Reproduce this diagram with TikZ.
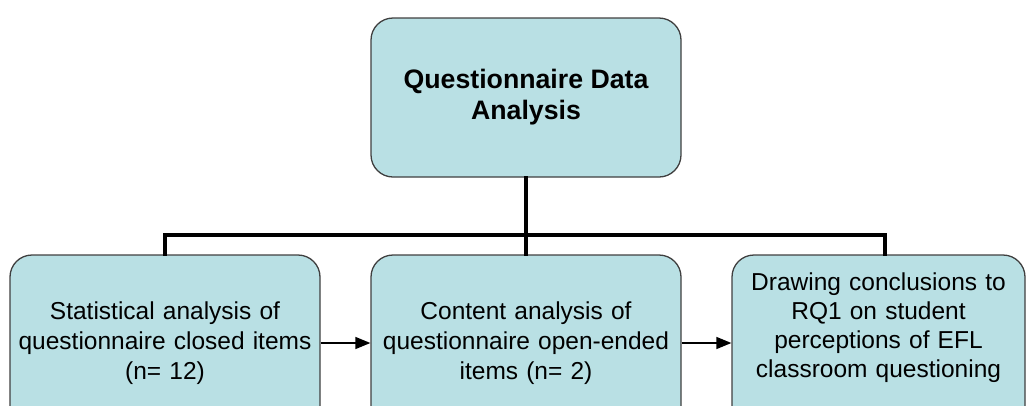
\documentclass[tikz,border=0pt]{standalone}
\usepackage{fontspec}
\setmainfont{Liberation Sans}
\usetikzlibrary{arrows.meta}
\definecolor{boxfill}{RGB}{185,224,228}
\definecolor{boxline}{RGB}{64,64,64}

\begin{document}
\begin{tikzpicture}[x=1pt, y=-1pt, thick,
    main node/.style={rectangle, rounded corners=22pt, draw=boxline, line width=1.3pt, fill=boxfill,
        minimum width=310pt, minimum height=176pt, align=center, inner sep=0pt,
        font=\fontsize{24.5}{30}\selectfont},
    bar/.style={line width=4pt, line cap=rect},
    flow/.style={line width=1.5pt, -{Triangle[length=15pt, width=12pt]}}]

                        \clip (0,0) rectangle (1028,405);

                        \node[main node, minimum height=159pt, font=\fontsize{26.7}{31}\selectfont\bfseries] at (526, 97.5) (qda) {Questionnaire Data\\Analysis};
                        \node[main node, text width=300pt] at (165, 343) (stat) {Statistical analysis of\\questionnaire closed items\\(n= 12)};
                        \node[main node, text width=300pt] at (526, 343) (content) {Content analysis of\\questionnaire open-ended\\items (n= 2)};
                        \node[main node, minimum width=293pt, text width=285pt, text depth=122pt, font=\fontsize{24.5}{29}\selectfont] at (878.5, 343) (concl) {Drawing conclusions to\\RQ1 on student\\perceptions of EFL\\classroom questioning};

                        \coordinate (hub) at (526, 235);

                        \draw[bar] (qda.south) -- (hub);
                        \draw[bar] (stat.north) |- (hub) -| ([xshift=6pt]concl.north);
                        \draw[bar] (hub) -- (content.north);

                        \path[flow] (stat) edge (content);
                        \path[flow] (content) edge (concl);

                    \end{tikzpicture}
\end{document}
